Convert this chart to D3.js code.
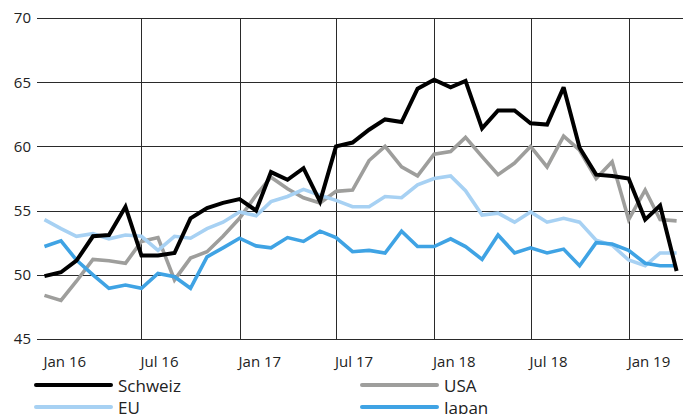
<!DOCTYPE html>
<html>
<head>
<meta charset="utf-8">
<script src="https://cdn.jsdelivr.net/npm/d3@7"></script>
<style>
  html, body { margin: 0; padding: 0; background: #fff; }
  svg { display: block; font-family: "Open Sans", "Noto Sans", sans-serif; }
</style>
</head>
<body>
<svg id="chart" width="691" height="414"></svg>
<script>
// Monthly index readings, Jan 2016 – Apr 2019
const months = d3.range(40).map(i => new Date(2016, i, 1));

const schweiz = [49.9, 50.2, 51.1, 53.0, 53.1, 55.3, 51.5, 51.5, 51.7, 54.4, 55.2, 55.6,
                 55.9, 55.0, 58.0, 57.4, 58.3, 55.7, 60.0, 60.3, 61.3, 62.1, 61.9, 64.5,
                 65.2, 64.6, 65.1, 61.4, 62.8, 62.8, 61.8, 61.7, 64.6, 59.9, 57.8, 57.7,
                 57.5, 54.3, 55.4, 50.3];
const usa     = [48.4, 48.0, 49.5, 51.2, 51.1, 50.9, 52.6, 52.9, 49.6, 51.3, 51.8, 53.0,
                 54.4, 56.2, 57.6, 56.7, 56.0, 55.6, 56.5, 56.6, 58.9, 60.0, 58.4, 57.7,
                 59.4, 59.6, 60.7, 59.2, 57.8, 58.7, 60.0, 58.4, 60.8, 59.7, 57.5, 58.8,
                 54.3, 56.6, 54.3, 54.2];
const eu      = [54.3, 53.6, 53.0, 53.2, 52.8, 53.1, 53.0, 51.9, 53.0, 52.85, 53.6, 54.1,
                 54.9, 54.6, 55.7, 56.1, 56.65, 56.2, 55.8, 55.3, 55.3, 56.1, 56.0, 57.0,
                 57.5, 57.7, 56.55, 54.65, 54.8, 54.1, 54.9, 54.1, 54.4, 54.1, 52.7, 52.3,
                 51.15, 50.7, 51.7, 51.7];
const japan   = [52.2, 52.65, 51.15, 50.0, 48.95, 49.2, 48.95, 50.1, 49.85, 48.95, 51.4, 52.1,
                 52.85, 52.25, 52.1, 52.9, 52.6, 53.4, 52.9, 51.8, 51.9, 51.7, 53.4, 52.2,
                 52.2, 52.8, 52.2, 51.2, 53.1, 51.7, 52.1, 51.7, 52.0, 50.7, 52.5, 52.4,
                 51.9, 50.9, 50.7, 50.7];

const yTicks = [45, 50, 55, 60, 65, 70];
const xTickLabels = ["Jan 16", "Jul 16", "Jan 17", "Jul 17", "Jan 18", "Jul 18", "Jan 19"];

const seriesNames  = ["Schweiz", "USA", "EU", "Japan"];
const seriesValues = [schweiz, usa, eu, japan];
const seriesColors = ["#000000", "#9e9e9c", "#a7d1f3", "#3fa3e4"];

const svg = d3.select("#chart");
const plotLeft = 37, plotRight = 683, plotTop = 18, plotBottom = 339;

const x = d3.scaleTime()
  .domain([new Date(2015, 11, 18), new Date(2019, 3, 13)])
  .range([plotLeft, plotRight]);
const y = d3.scaleLinear().domain([45, 70]).range([plotBottom, plotTop]);

const tickDates = d3.range(7).map(i => new Date(2016, i * 6, 1));

// horizontal grid
svg.append("g")
  .selectAll("line")
  .data(yTicks)
  .join("line")
  .attr("x1", plotLeft).attr("x2", plotRight)
  .attr("y1", d => Math.round(y(d)) + 0.5)
  .attr("y2", d => Math.round(y(d)) + 0.5)
  .attr("stroke", "#2a2a2a").attr("stroke-width", 1);

// vertical grid (half-year marks, none at the first)
svg.append("g")
  .selectAll("line")
  .data(tickDates.slice(1))
  .join("line")
  .attr("x1", d => Math.round(x(d)) + 0.5)
  .attr("x2", d => Math.round(x(d)) + 0.5)
  .attr("y1", plotTop).attr("y2", plotBottom)
  .attr("stroke", "#2a2a2a").attr("stroke-width", 1);

// y labels
svg.append("g")
  .selectAll("text")
  .data(yTicks)
  .join("text")
  .attr("x", 31)
  .attr("y", d => y(d))
  .attr("dy", "0.36em")
  .attr("text-anchor", "end")
  .attr("font-size", 15)
  .attr("fill", "#222")
  .text(d => d);

// x labels
svg.append("g")
  .selectAll("text")
  .data(tickDates)
  .join("text")
  .attr("x", d => x(d) - 1)
  .attr("y", 366.5)
  .attr("font-size", 15)
  .attr("fill", "#222")
  .text((d, i) => xTickLabels[i]);

// series lines (drawn back to front)
const line = d3.line()
  .x((d, i) => x(months[i]))
  .y(d => y(d));

const order = [1, 2, 3, 0];
svg.append("g")
  .selectAll("path")
  .data(order)
  .join("path")
  .attr("d", k => line(seriesValues[k]))
  .attr("fill", "none")
  .attr("stroke", k => seriesColors[k])
  .attr("stroke-width", k => k === 0 ? 4 : 3.6)
  .attr("stroke-linejoin", "miter")
  .attr("stroke-miterlimit", 3);

// legend
const legendPos = [
  { x: 34, y: 385 },
  { x: 360, y: 385 },
  { x: 34, y: 407 },
  { x: 360, y: 407 }
];
const lg = svg.append("g")
  .selectAll("g")
  .data(seriesNames)
  .join("g")
  .attr("transform", (d, i) => `translate(${legendPos[i].x},${legendPos[i].y})`);
lg.append("line")
  .attr("x1", 2).attr("x2", 77)
  .attr("stroke", (d, i) => seriesColors[i])
  .attr("stroke-width", 4)
  .attr("stroke-linecap", "round");
lg.append("text")
  .attr("x", 84)
  .attr("y", 7)
  .attr("font-size", 17)
  .attr("fill", "#222")
  .text(d => d);
</script>
</body>
</html>
